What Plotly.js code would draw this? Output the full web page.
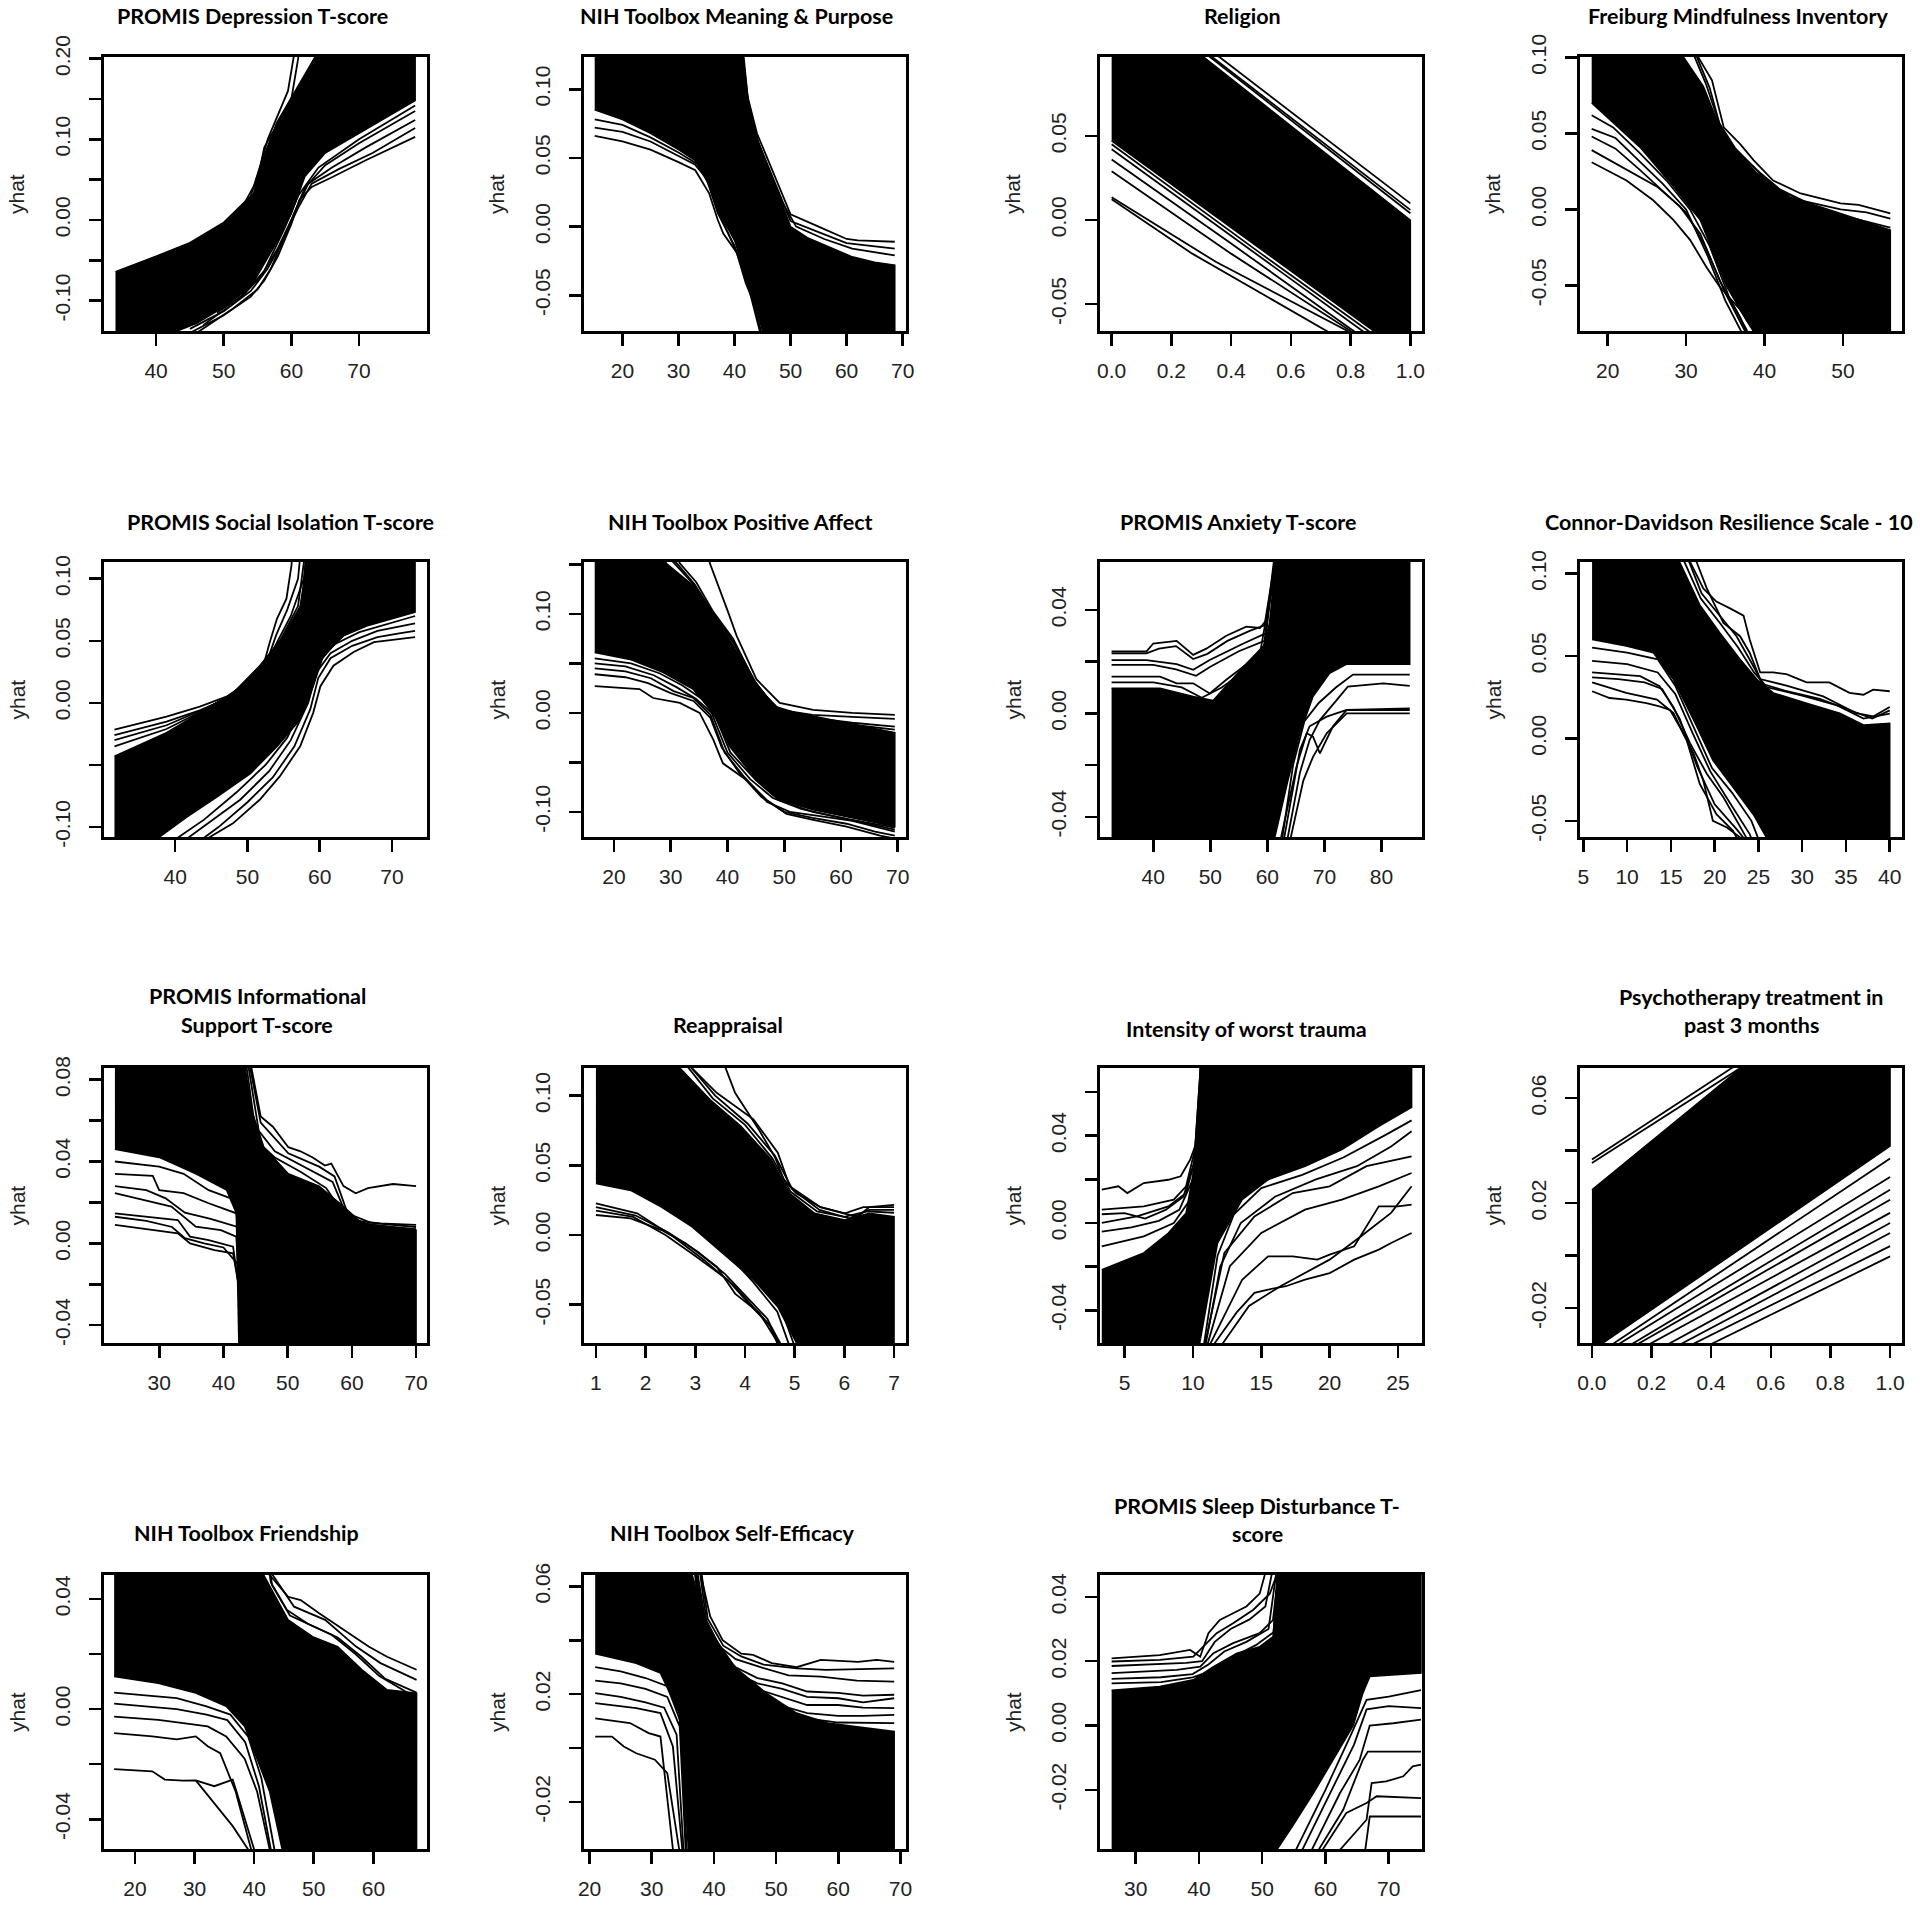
<!DOCTYPE html>
<html><head><meta charset="utf-8">
<script src="https://cdn.plot.ly/plotly-3.0.1.min.js"></script>
<style>html,body{margin:0;padding:0;background:#fff}#chart{width:1920px;height:1907px}</style>
</head><body><div id="chart"></div><script>
// ---------- titles & ticks ----------
const titles = [
  ['PROMIS Depression T-score'], ['NIH Toolbox Meaning & Purpose'], ['Religion'], ['Freiburg Mindfulness Inventory'],
  ['PROMIS Social Isolation T-score'], ['NIH Toolbox Positive Affect'], ['PROMIS Anxiety T-score'], ['Connor-Davidson Resilience Scale - 10'],
  ['PROMIS Informational', 'Support T-score'], ['Reappraisal'], ['Intensity of worst trauma'], ['Psychotherapy treatment in', 'past 3 months'],
  ['NIH Toolbox Friendship'], ['NIH Toolbox Self-Efficacy'], ['PROMIS Sleep Disturbance T-', 'score']
];
const xTicks = [
  [40,50,60,70], [20,30,40,50,60,70], [0,0.2,0.4,0.6,0.8,1.0], [20,30,40,50],
  [40,50,60,70], [20,30,40,50,60,70], [40,50,60,70,80], [5,10,15,20,25,30,35,40],
  [30,40,50,60,70], [1,2,3,4,5,6,7], [5,10,15,20,25], [0,0.2,0.4,0.6,0.8,1.0],
  [20,30,40,50,60], [20,30,40,50,60,70], [30,40,50,60,70]
];
const xTickLabels = [
  ['40','50','60','70'], ['20','30','40','50','60','70'], ['0.0','0.2','0.4','0.6','0.8','1.0'], ['20','30','40','50'],
  ['40','50','60','70'], ['20','30','40','50','60','70'], ['40','50','60','70','80'], ['5','10','15','20','25','30','35','40'],
  ['30','40','50','60','70'], ['1','2','3','4','5','6','7'], ['5','10','15','20','25'], ['0.0','0.2','0.4','0.6','0.8','1.0'],
  ['20','30','40','50','60'], ['20','30','40','50','60','70'], ['30','40','50','60','70']
];
const yTicks = [
  [-0.10,-0.05,0,0.05,0.10,0.15,0.20], [-0.05,0,0.05,0.10], [-0.05,0,0.05], [-0.05,0,0.05,0.10],
  [-0.10,-0.05,0,0.05,0.10], [-0.10,-0.05,0,0.05,0.10,0.15], [-0.04,-0.02,0,0.02,0.04], [-0.05,0,0.05,0.10],
  [-0.04,-0.02,0,0.02,0.04,0.06,0.08], [-0.05,0,0.05,0.10], [-0.04,-0.02,0,0.02,0.04,0.06], [-0.02,0,0.02,0.04,0.06],
  [-0.04,-0.02,0,0.02,0.04], [-0.02,0,0.02,0.04,0.06], [-0.02,0,0.02,0.04]
];
const yTickLabels = [
  ['-0.10','','0.00','','0.10','','0.20'], ['-0.05','0.00','0.05','0.10'], ['-0.05','0.00','0.05'], ['-0.05','0.00','0.05','0.10'],
  ['-0.10','','0.00','0.05','0.10'], ['-0.10','','0.00','','0.10',''], ['-0.04','','0.00','','0.04'], ['-0.05','0.00','0.05','0.10'],
  ['-0.04','','0.00','','0.04','','0.08'], ['-0.05','0.00','0.05','0.10'], ['-0.04','','0.00','','0.04',''], ['-0.02','','0.02','','0.06'],
  ['-0.04','','0.00','','0.04'], ['-0.02','','0.02','','0.06'], ['-0.02','0.00','0.02','0.04']
];

// ---------- panel 1: PROMIS Depression ----------
const p1_hi = [[34,-0.064],[40,-0.045],[45,-0.028],[50,-0.003],[54.4,0.033],[55.9,0.078],[57.8,0.12],[59.8,0.149],[61.3,0.169],[63.7,0.205],[66,0.25],[78.3,0.25]];
const p1_lo = [[34,-0.2],[40,-0.16],[43,-0.138],[46,-0.128],[50,-0.108],[54,-0.083],[56,-0.054],[58,-0.025],[60,0.008],[62,0.054],[65,0.083],[70,0.107],[74,0.127],[78.3,0.148]];
const p1_u1 = [[53,0.02],[55,0.05],[56,0.09],[57,0.105],[58.5,0.125],[60,0.15],[61,0.2],[61.5,0.25]];
const p1_u2 = [[54,0.03],[55.5,0.07],[56.5,0.1],[58,0.13],[59.5,0.16],[60.5,0.21]];
const p1_d1 = [[45,-0.14],[50,-0.118],[54,-0.095],[56,-0.075],[58,-0.045],[60,-0.005],[61.2,0.025],[63,0.041],[66,0.053],[71,0.074],[78.3,0.103]];
const p1_d2 = [[46,-0.14],[51,-0.112],[55,-0.086],[57,-0.06],[59,-0.02],[61,0.015],[63,0.045],[67,0.063],[72,0.083],[78.3,0.114]];
const p1_d3 = [[45,-0.135],[50,-0.113],[54,-0.088],[56.5,-0.06],[58.5,-0.03],[60.5,0.01],[62.5,0.045],[66,0.065],[71,0.09],[78.3,0.124]];
const p1_d4 = [[47,-0.13],[52,-0.1],[55.5,-0.07],[58,-0.035],[60,0.0],[62,0.04],[65,0.068],[70,0.095],[78.3,0.135]];
const p1_d5 = [[49,-0.115],[53,-0.092],[56,-0.063],[59,-0.01],[61,0.03],[64,0.065],[70,0.1],[78.3,0.142]];

// ---------- panel 2: Meaning & Purpose ----------
const p2_hi = [[15.05,0.2],[40,0.2],[41.5,0.125],[42.5,0.09],[44,0.062],[46,0.04],[48,0.022],[50,0.0],[53,-0.008],[57,-0.015],[61,-0.022],[65,-0.026],[68.6,-0.028]];
const p2_lo = [[15.05,0.085],[20,0.078],[25,0.068],[30,0.056],[33,0.048],[35.5,0.03],[37,0.012],[40,-0.01],[42,-0.035],[44,-0.06],[46,-0.085],[50,-0.15],[68.6,-0.15]];
const p2_u1 = [[40.5,0.15],[42,0.1],[44,0.068],[46,0.048],[48,0.028],[50,0.009],[55,0.0],[60,-0.009],[62,-0.01],[68.6,-0.011]];
const p2_u2 = [[40.8,0.15],[42.2,0.095],[44,0.064],[46,0.044],[48,0.024],[50,0.004],[55,-0.004],[60,-0.012],[68.6,-0.016]];
const p2_u3 = [[41,0.15],[42.4,0.092],[44.2,0.062],[46,0.042],[48.5,0.018],[51,0.0],[56,-0.009],[61,-0.016],[68.6,-0.021]];
const p2_d1 = [[15.05,0.066],[20,0.062],[25,0.056],[30,0.047],[33,0.041],[35.5,0.024],[37,0.005],[38,-0.005],[40.4,-0.019],[42,-0.041],[44,-0.061],[45.1,-0.076],[46,-0.09]];
const p2_d2 = [[15.05,0.072],[20,0.069],[25,0.062],[30,0.051],[33,0.045],[35,0.035],[37,0.01],[40,-0.014],[42,-0.036],[44.5,-0.076],[45,-0.09]];
const p2_d3 = [[15.05,0.078],[20,0.074],[25,0.065],[30,0.054],[34,0.044],[36,0.025],[38,0.003],[40.5,-0.02],[43,-0.05],[45,-0.08]];

// ---------- panel 3: Religion ----------
const p3_hi = [[0,0.14],[1,0.0]];
const p3_lo = [[0,0.047],[0.877,-0.066],[1,-0.082]];
const p3_u1 = [[0,0.146],[1,0.0099]];
const p3_u2 = [[0,0.143],[1,0.006]];
const p3_u3 = [[0,0.1425],[1,0.004]];
const p3_d1 = [[0,0.0123],[0.27,-0.02],[0.72,-0.066],[1,-0.095]];
const p3_d2 = [[0,0.0135],[0.35,-0.025],[0.79,-0.066],[1,-0.09]];
const p3_d3 = [[0,0.029],[0.4,-0.02],[0.8,-0.066],[1,-0.09]];
const p3_d4 = [[0,0.036],[0.4,-0.014],[0.81,-0.066],[1,-0.09]];
const p3_d5 = [[0,0.042],[0.45,-0.016],[0.84,-0.066],[1,-0.088]];
const p3_d6 = [[0,0.045],[0.5,-0.02],[0.86,-0.066],[1,-0.085]];

// ---------- panel 4: Freiburg Mindfulness ----------
const p4_hi = [[17.96,0.15],[26,0.15],[29.7,0.1],[32.2,0.081],[33.9,0.059],[36.0,0.041],[39.0,0.024],[43.3,0.008],[49.7,-0.0026],[56.04,-0.0136]];
const p4_lo = [[17.96,0.070],[24.1,0.041],[28.4,0.015],[31.8,-0.007],[33.5,-0.029],[35.2,-0.051],[37.7,-0.073],[38.6,-0.080],[40,-0.1],[56.04,-0.1]];
const p4_u1 = [[31.0,0.12],[31.57,0.1],[33.3,0.085],[34.8,0.054],[36.9,0.043],[38.6,0.0325],[41.1,0.019],[44.6,0.0105],[49.7,0.004],[52,0.003],[56.04,-0.0026]];
const p4_u2 = [[30.8,0.12],[31.4,0.1],[33.0,0.08],[34.6,0.05],[36.5,0.038],[38.6,0.028],[41.1,0.015],[44.6,0.006],[49.7,0.0],[53,-0.002],[56.04,-0.006]];
const p4_u3 = [[30.3,0.11],[32.5,0.083],[34.2,0.057],[36.3,0.04],[39,0.026],[42,0.013],[46,0.003],[50,-0.004],[56.04,-0.012]];
const p4_d1 = [[17.96,0.031],[22.4,0.019],[25.8,0.006],[28.4,-0.007],[30.5,-0.020],[32.6,-0.038],[34.3,-0.051],[36.9,-0.066],[38.6,-0.080],[39.5,-0.09]];
const p4_d2 = [[17.96,0.039],[22.4,0.026],[26.3,0.015],[29.2,0.002],[31.8,-0.016],[34.3,-0.047],[36.9,-0.071],[38,-0.085]];
const p4_d3 = [[17.96,0.048],[21,0.04],[24.1,0.026],[27,0.012],[30,-0.002],[32.5,-0.025],[35,-0.055],[37.5,-0.08]];
const p4_d4 = [[17.96,0.062],[20.7,0.054],[24.1,0.037],[27.5,0.019],[30.5,0.0],[33,-0.024],[35.5,-0.058],[37.8,-0.08]];
const p4_d5 = [[17.96,0.053],[21,0.047],[24,0.032],[27,0.017],[30,0.0],[32.7,-0.03],[35,-0.06],[37.5,-0.085]];

// ---------- panel 5: Social Isolation ----------
const p5_hi = [[31.6,-0.043],[38.8,-0.024],[43.4,-0.008],[48.0,0.008],[51.7,0.030],[55.0,0.054],[57.3,0.078],[58.2,0.113],[58.8,0.15],[73.2,0.15]];
const p5_lo = [[31.6,-0.15],[36.9,-0.112],[41.6,-0.092],[45.7,-0.076],[50.4,-0.057],[54.1,-0.035],[57.3,-0.0135],[59.1,0.0135],[60.5,0.038],[63.3,0.054],[66.5,0.062],[73.2,0.073]];
const p5_u1 = [[31.6,-0.0216],[38.8,-0.011],[43.4,-0.003],[47.1,0.005],[49.9,0.016],[52.2,0.030],[53.1,0.049],[54.1,0.068],[55.4,0.084],[56.1,0.111],[56.3,0.13]];
const p5_u2 = [[31.6,-0.026],[38.8,-0.015],[43.4,-0.006],[47.5,0.004],[50.5,0.018],[52.8,0.035],[54,0.055],[55.5,0.075],[57,0.1],[57.5,0.13]];
const p5_u3 = [[31.6,-0.030],[38.8,-0.018],[43.4,-0.0065],[47.8,0.006],[51,0.022],[53.5,0.042],[56,0.07],[57.8,0.1],[58.3,0.13]];
const p5_u4 = [[31.6,-0.035],[38.8,-0.021],[43.4,-0.0075],[48,0.007],[51.5,0.026],[54.5,0.05],[57,0.078],[58.2,0.13]];
const p5_d1 = [[43,-0.115],[44.8,-0.108],[48.0,-0.097],[51.7,-0.078],[54.5,-0.059],[57.3,-0.035],[59.1,-0.008],[60.1,0.0135],[61.9,0.030],[64.7,0.041],[67.5,0.049],[70.2,0.051],[73.2,0.053]];
const p5_d2 = [[42.5,-0.115],[46,-0.1],[50,-0.08],[53.5,-0.06],[56.5,-0.035],[58.7,-0.005],[59.8,0.02],[61.5,0.036],[64.5,0.046],[68,0.053],[71,0.056],[73.2,0.058]];
const p5_d3 = [[41,-0.112],[45,-0.095],[49,-0.078],[53,-0.055],[56,-0.03],[58.4,0.0],[59.6,0.025],[61.5,0.04],[64.5,0.05],[68,0.058],[73.2,0.064]];
const p5_d4 = [[40,-0.11],[44,-0.094],[48.5,-0.072],[52.5,-0.05],[55.5,-0.028],[58,0.002],[59.5,0.03],[62,0.047],[65.5,0.057],[69,0.063],[73.2,0.07]];

// ---------- panel 6: Positive Affect ----------
const p6_hi = [[16.6,0.2],[28,0.2],[29.2,0.151],[33.9,0.129],[37.5,0.098],[41.0,0.068],[44.5,0.034],[48.1,0.007],[52.2,0.0],[60,-0.009],[69.5,-0.02]];
const p6_lo = [[16.6,0.061],[22.8,0.054],[28.6,0.041],[33.9,0.024],[37.5,0.0],[40.4,-0.034],[45.1,-0.068],[49.2,-0.088],[55.1,-0.098],[61.0,-0.105],[69.5,-0.115]];
const p6_u1 = [[36.5,0.165],[36.9,0.151],[40.1,0.102],[41.6,0.078],[45.1,0.034],[49.2,0.010],[55.1,0.003],[62,0.0],[69.5,-0.002]];
const p6_u2 = [[31,0.16],[31.6,0.151],[34.5,0.132],[37.5,0.102],[41.0,0.075],[45.1,0.027],[49.2,0.003],[55,-0.002],[62,-0.004],[69.5,-0.006]];
const p6_u3 = [[30.5,0.155],[34.2,0.13],[37.5,0.1],[41.3,0.07],[45,0.03],[48.6,0.004],[55,-0.005],[62,-0.01],[69.5,-0.014]];
const p6_u4 = [[30,0.155],[34,0.13],[37.5,0.099],[41.2,0.069],[44.8,0.032],[48.4,0.005],[55,-0.006],[62,-0.012],[69.5,-0.017]];
const p6_d1 = [[16.6,0.027],[24.5,0.024],[26.9,0.015],[31.6,0.010],[35.1,0.0],[37.5,-0.027],[39.2,-0.051],[43.4,-0.068],[46.9,-0.088],[50.4,-0.102],[55.1,-0.108],[61.0,-0.115],[66.9,-0.124],[69.5,-0.127]];
const p6_d2 = [[16.6,0.039],[22,0.036],[26,0.03],[30,0.02],[34,0.012],[37,-0.005],[39,-0.035],[42,-0.06],[46,-0.085],[50,-0.1],[55,-0.106],[61,-0.112],[66,-0.12],[69.5,-0.124]];
const p6_d3 = [[16.6,0.045],[22,0.042],[26.5,0.035],[30.5,0.022],[34,0.015],[37,-0.002],[39.5,-0.04],[43,-0.065],[47,-0.09],[51,-0.1],[56,-0.104],[62,-0.109],[69.5,-0.12]];
const p6_d4 = [[16.6,0.050],[22,0.047],[27,0.038],[31,0.026],[34.5,0.014],[37.2,0.0],[40,-0.04],[44,-0.067],[48,-0.086],[53,-0.097],[60,-0.106],[69.5,-0.118]];
const p6_d5 = [[16.6,0.055],[23,0.05],[28,0.04],[32,0.028],[35.5,0.014],[38,-0.005],[40.5,-0.04],[45,-0.068],[49,-0.088],[55,-0.1],[62,-0.108],[69.5,-0.116]];

// ---------- panel 7: Anxiety ----------
const p7_hi = [[32.7,0.0097],[41.2,0.0097],[47,0.0065],[50.5,0.005],[55.8,0.018],[59.3,0.026],[60.4,0.035],[61.6,0.058],[62,0.08],[84.95,0.08]];
const p7_lo = [[32.7,-0.08],[61,-0.08],[61.3,-0.048],[63.6,-0.026],[65.7,-0.0077],[68.0,0.0065],[70.9,0.0155],[73.9,0.019],[84.95,0.019]];
const p7_u1 = [[32.7,0.0239],[38.8,0.0239],[40,0.027],[44.1,0.028],[47.0,0.0226],[49.3,0.025],[52.8,0.030],[56.3,0.0335],[58.7,0.033],[59.8,0.036],[61.6,0.057],[62,0.065]];
const p7_u2 = [[32.7,0.0206],[38.8,0.0206],[44.1,0.019],[47.0,0.0168],[49.9,0.0206],[55.8,0.027],[59.8,0.031],[61.3,0.058],[61.6,0.065]];
const p7_u3 = [[32.7,0.0142],[41.2,0.0142],[44.1,0.0116],[47,0.0116],[49.9,0.0077],[52.8,0.013],[58.7,0.023],[61.0,0.052],[61.5,0.065]];
const p7_u4 = [[32.7,0.0232],[38.8,0.0232],[41,0.025],[44,0.026],[47,0.021],[49.5,0.023],[53,0.028],[57,0.032],[59.5,0.034],[61.4,0.06]];
const p7_u5 = [[32.7,0.0187],[40,0.0187],[44,0.017],[47.5,0.0145],[50,0.018],[55,0.024],[59.5,0.028],[61.2,0.06]];
const p7_u6 = [[32.7,0.012],[40,0.012],[45,0.01],[48.5,0.006],[52,0.01],[57,0.018],[60,0.024],[61.5,0.06]];
const p7_d1 = [[63.4,-0.05],[65.7,-0.023],[67.4,-0.0103],[69.2,-0.0026],[72.1,0.005],[74.1,0.0103],[80.3,0.0116],[84.95,0.0106]];
const p7_d2 = [[62.2,-0.05],[65.1,-0.0206],[66.9,-0.0077],[68.0,-0.009],[69.2,-0.0155],[71.5,-0.005],[73.9,0.0013],[84.95,0.0019]];
const p7_d3 = [[63.9,-0.05],[66.3,-0.026],[68.0,-0.0168],[70.4,-0.0077],[73.9,0.0],[84.95,0.0]];
const p7_d4 = [[62.8,-0.05],[65.7,-0.0142],[67.4,-0.005],[70.4,-0.0013],[73.9,0.0013],[84.95,0.0013]];
const p7_d5 = [[62.5,-0.05],[64.5,-0.02],[66.5,-0.003],[69,0.004],[72,0.01],[75,0.015],[84.95,0.015]];

// ---------- panel 8: Connor-Davidson ----------
const p8_hi = [[6,0.15],[15,0.15],[16.0,0.107],[18.3,0.081],[20.6,0.064],[22.9,0.048],[24.8,0.036],[26.7,0.0276],[30.5,0.0214],[34.3,0.0153],[37.0,0.0082],[40,0.0092]];
const p8_lo = [[6,0.060],[9.9,0.056],[13.0,0.052],[15.3,0.0357],[17.6,0.0112],[19.8,-0.0133],[22.1,-0.0296],[24.4,-0.046],[25.9,-0.060],[27,-0.08],[40,-0.08]];
const p8_u1 = [[16.8,0.12],[17.2,0.107],[18.7,0.091],[20.2,0.083],[21.7,0.079],[23.3,0.0745],[24.0,0.060],[25.2,0.040],[26.7,0.040],[28.2,0.039],[30.5,0.034],[33.1,0.034],[35.4,0.0276],[37.0,0.0265],[38.1,0.0296],[40,0.0286]];
const p8_u2 = [[17,0.12],[19.1,0.091],[21.0,0.070],[22.9,0.062],[24.0,0.052],[25.2,0.036],[28.2,0.032],[32.4,0.0255],[36.2,0.0153],[38.1,0.0133],[40,0.019]];
const p8_u3 = [[16.5,0.115],[18.5,0.088],[20.5,0.075],[22.5,0.062],[24.3,0.045],[25.5,0.033],[28,0.029],[32,0.024],[36,0.016],[38,0.012],[40,0.017]];
const p8_u4 = [[16.3,0.11],[18.4,0.085],[20.6,0.07],[22.7,0.055],[24.5,0.04],[26,0.031],[30,0.026],[34,0.02],[37,0.012],[40,0.015]];
const p8_d1 = [[6,0.0286],[8.0,0.0245],[9.9,0.0235],[12.2,0.0214],[13.7,0.0194],[14.9,0.0173],[16.0,0.0071],[17.6,-0.0092],[18.7,-0.0255],[19.8,-0.050],[21.4,-0.054],[22.9,-0.060],[23.5,-0.065]];
const p8_d2 = [[6,0.034],[9.9,0.0276],[13.4,0.0235],[15.3,0.0153],[16.8,-0.001],[18.3,-0.0276],[20.2,-0.046],[22.1,-0.056],[23,-0.065]];
const p8_d3 = [[6,0.040],[11.5,0.0378],[13.7,0.0316],[15.3,0.019],[17.2,-0.003],[19.1,-0.0214],[21.0,-0.0357],[23.6,-0.060],[24,-0.065]];
const p8_d4 = [[6,0.047],[10,0.045],[13.5,0.04],[15.5,0.027],[17.5,0.003],[19.5,-0.02],[21.5,-0.037],[24,-0.058],[24.5,-0.065]];
const p8_d5 = [[6,0.055],[10,0.052],[13.5,0.048],[15.5,0.032],[17.5,0.008],[19.7,-0.018],[22,-0.033],[24.2,-0.05],[25.3,-0.065]];
const p8_d6 = [[6,0.037],[9,0.036],[12,0.034],[14,0.03],[16,0.012],[18,-0.017],[20,-0.04],[22.5,-0.055],[24,-0.065]];

// ---------- panel 9: Informational Support ----------
const p9_hi = [[23.1,0.12],[43,0.12],[43.4,0.0857],[44.4,0.065],[46.3,0.047],[50.1,0.034],[54.9,0.028],[58.7,0.018],[61.6,0.0098],[70,0.0065]];
const p9_lo = [[23.1,0.046],[30,0.042],[35.7,0.034],[40.5,0.026],[42.0,0.0147],[42.4,-0.049],[42.6,-0.08],[70,-0.08]];
const p9_u1 = [[43.5,0.1],[45.8,0.062],[47.7,0.057],[50.1,0.047],[52.0,0.045],[53.9,0.042],[55.8,0.038],[56.8,0.039],[58.7,0.028],[60.6,0.0245],[62.5,0.027],[66.4,0.029],[70,0.028]];
const p9_u2 = [[43.3,0.1],[45.8,0.059],[50.1,0.044],[54.9,0.0375],[57.3,0.0327],[59.7,0.0114],[64.4,0.0098],[70,0.009]];
const p9_u3 = [[43.2,0.1],[45.5,0.055],[48,0.045],[51,0.04],[54,0.035],[57,0.03],[59,0.015],[63,0.01],[70,0.008]];
const p9_u4 = [[43.0,0.1],[45.2,0.05],[48,0.042],[52,0.035],[56,0.027],[59,0.013],[63,0.009],[70,0.007]];
const p9_d1 = [[23.1,0.009],[32.9,0.0049],[34.8,0.0],[38.6,-0.0033],[41.5,-0.0049],[42.6,-0.0245],[44.4,-0.0487],[45,-0.06]];
const p9_d2 = [[23.1,0.0147],[32.9,0.0114],[34.8,0.0033],[37.7,0.0016],[41.5,-0.0016],[42.9,-0.033],[43.8,-0.06]];
const p9_d3 = [[23.1,0.0245],[31.9,0.018],[35.7,0.0082],[39.6,0.0065],[42.0,0.0033],[43.3,-0.06]];
const p9_d4 = [[23.1,0.034],[29,0.033],[30,0.026],[33.8,0.0245],[37.7,0.0196],[42.0,0.0147],[42.9,-0.008],[43.6,-0.06]];
const p9_d5 = [[23.1,0.040],[30,0.0375],[33.8,0.034],[37.7,0.026],[42.0,0.021],[43.2,-0.06]];
const p9_d6 = [[23.1,0.013],[28,0.011],[32,0.008],[34,0.0025],[37,0.0],[40,-0.002],[42.2,-0.01],[43,-0.06]];
const p9_d7 = [[23.1,0.028],[28,0.026],[31,0.022],[34,0.015],[38,0.012],[42.2,0.008],[43,-0.06]];

// ---------- panel 10: Reappraisal ----------
const p10_hi = [[1,0.2],[2.5,0.2],[2.69,0.1198],[3.3,0.097],[3.92,0.078],[4.53,0.054],[4.9,0.030],[5.4,0.0156],[6.01,0.0108],[6.5,0.0156],[7,0.0132]];
const p10_lo = [[1,0.037],[1.7,0.032],[2.32,0.020],[2.93,0.006],[3.55,-0.013],[4.17,-0.032],[4.66,-0.0515],[5.03,-0.077],[5.2,-0.1],[7,-0.1]];
const p10_u1 = [[3.55,0.14],[3.61,0.1198],[3.8,0.102],[4.29,0.075],[4.6,0.056],[4.78,0.040],[5.03,0.030],[5.52,0.020],[6.01,0.0156],[6.38,0.020],[7,0.020]];
const p10_u2 = [[2.85,0.13],[2.93,0.1198],[3.43,0.102],[4.17,0.083],[4.66,0.059],[4.9,0.035],[5.52,0.020],[6.26,0.013],[6.5,0.020],[7,0.0216]];
const p10_u3 = [[2.8,0.125],[3.4,0.1],[4.05,0.08],[4.6,0.057],[4.95,0.033],[5.5,0.018],[6.1,0.012],[6.5,0.018],[7,0.018]];
const p10_u4 = [[2.75,0.125],[3.35,0.098],[4,0.079],[4.55,0.055],[4.92,0.031],[5.45,0.017],[6,0.013],[6.45,0.017],[7,0.016]];
const p10_d1 = [[1,0.0144],[1.7,0.012],[2.32,0.0036],[2.81,-0.006],[3.43,-0.0227],[3.8,-0.042],[4.29,-0.056],[4.66,-0.077],[4.8,-0.09]];
const p10_d2 = [[1,0.0227],[1.83,0.0156],[2.56,-0.0012],[3.18,-0.018],[3.8,-0.037],[4.17,-0.0515],[4.53,-0.066],[4.9,-0.09]];
const p10_d3 = [[1,0.02],[1.8,0.014],[2.45,0.002],[3.05,-0.012],[3.6,-0.028],[4.05,-0.045],[4.45,-0.06],[4.85,-0.09]];
const p10_d4 = [[1,0.0175],[1.75,0.013],[2.4,0.0],[3.0,-0.015],[3.65,-0.032],[4.1,-0.05],[4.5,-0.065],[4.8,-0.09]];
const p10_d5 = [[1,0.044],[1.7,0.038],[2.4,0.025],[3,0.01],[3.6,-0.008],[4.2,-0.03],[4.7,-0.05],[5.1,-0.09]];
const p10_d6 = [[1,0.041],[1.7,0.035],[2.35,0.022],[2.95,0.008],[3.55,-0.01],[4.15,-0.033],[4.65,-0.055],[5.0,-0.09]];

// ---------- panel 11: Intensity of worst trauma ----------
const p11_hi = [[3.33,-0.0214],[6.4,-0.0137],[8.2,-0.0046],[9.5,0.0046],[10.2,0.029],[10.7,0.071],[10.9,0.1],[26,0.1]];
const p11_lo = [[3.33,-0.08],[10.3,-0.08],[10.5,-0.055],[11.8,-0.0092],[13.6,0.0107],[15.5,0.0198],[18.2,0.026],[20.9,0.0336],[23.6,0.0443],[26,0.053]];
const p11_u1 = [[3.33,0.0153],[4.55,0.0168],[5.2,0.0137],[6.4,0.0183],[8.2,0.0198],[9.1,0.0214],[9.8,0.029],[10.5,0.041],[10.9,0.071],[11,0.09]];
const p11_u2 = [[3.33,0.0061],[6.4,0.0076],[8.6,0.0107],[9.5,0.0168],[10.2,0.035],[10.7,0.075]];
const p11_u3 = [[3.33,0.0],[5.9,0.003],[8.2,0.0076],[9.5,0.0137],[10.2,0.03],[10.6,0.075]];
const p11_u4 = [[3.33,-0.0107],[6.4,-0.0061],[8.6,0.0],[9.8,0.0107],[10.3,0.03],[10.6,0.075]];
const p11_u5 = [[3.33,0.004],[5,0.0045],[6.5,0.002],[8,0.006],[9.3,0.012],[10.1,0.028],[10.6,0.075]];
const p11_u6 = [[3.33,-0.004],[5.5,-0.002],[7.5,0.001],[9,0.006],[10,0.02],[10.6,0.075]];
const p11_d1 = [[11.3,-0.07],[11.6,-0.055],[13.2,-0.041],[14.5,-0.032],[15.5,-0.0305],[16.8,-0.029],[18.2,-0.026],[20.0,-0.023],[21.8,-0.0168],[23.6,-0.0122],[24.5,-0.0092],[26,-0.0046]];
const p11_d2 = [[10.9,-0.07],[11.3,-0.055],[13.6,-0.026],[15.5,-0.0153],[17.3,-0.0153],[19.1,-0.0168],[20,-0.0145],[21.8,-0.0107],[23.6,0.0076],[25,0.0076],[26,0.0084]];
const p11_d3 = [[11.8,-0.07],[12.2,-0.055],[14.1,-0.038],[16.4,-0.029],[20,-0.0168],[22.3,-0.0061],[24.5,0.0046],[26,0.0168]];
const p11_d4 = [[10.9,-0.07],[11.1,-0.055],[12.7,-0.0198],[15.0,-0.0046],[18.2,0.0061],[20.9,0.0107],[23.6,0.0168],[26,0.0229]];
const p11_d5 = [[10.7,-0.07],[10.9,-0.055],[12.3,-0.0137],[14.5,0.003],[17.3,0.0137],[20,0.0168],[22.7,0.026],[26,0.0305]];
const p11_d6 = [[10.8,-0.06],[12,-0.02],[13.5,0.0],[16,0.012],[19,0.02],[22,0.026],[24.5,0.035],[26,0.042]];
const p11_d7 = [[10.7,-0.06],[11.8,-0.015],[13,0.004],[15,0.016],[18,0.022],[21,0.03],[24,0.04],[26,0.047]];

// ---------- panel 12: Psychotherapy ----------
const p12_hi = [[0,0.0251],[0.5,0.0716],[1,0.118]];
const p12_lo = [[0,-0.0362],[1,0.0417]];
const p12_u1 = [[0,0.0366],[1,0.111]];
const p12_u2 = [[0,0.0353],[1,0.108]];
const p12_d1 = [[0,-0.056],[1,-0.0003]];
const p12_d2 = [[0,-0.0528],[1,0.0036]];
const p12_d3 = [[0,-0.0517],[1,0.0086]];
const p12_d4 = [[0,-0.0496],[1,0.0124]];
const p12_d5 = [[0,-0.0457],[1,0.0163]];
const p12_d6 = [[0,-0.0437],[1,0.0213]];
const p12_d7 = [[0,-0.0428],[1,0.0251]];
const p12_d8 = [[0,-0.040],[1,0.030]];
const p12_d9 = [[0,-0.039],[1,0.037]];

// ---------- panel 13: Friendship ----------
const p13_hi = [[16.5,0.1],[41,0.1],[41.6,0.0487],[45.7,0.0324],[49.8,0.0263],[54,0.0227],[58.1,0.0143],[62.3,0.007],[67.25,0.0058]];
const p13_lo = [[16.5,0.0118],[23.9,0.0094],[30.2,0.0058],[35.3,0.001],[38.4,-0.0063],[40.5,-0.018],[42.6,-0.030],[44.7,-0.051],[45,-0.08],[67.25,-0.08]];
const p13_u1 = [[42,0.06],[42.6,0.0487],[45.7,0.0408],[47.8,0.0396],[50.9,0.0348],[55,0.0288],[59.2,0.0227],[62.3,0.019],[67.25,0.0143]];
const p13_u2 = [[42.4,0.06],[43.1,0.0487],[46.7,0.0372],[51.9,0.0324],[57.1,0.0227],[61.2,0.0167],[67.25,0.0106]];
const p13_u3 = [[42,0.06],[43,0.045],[46,0.034],[50,0.03],[54,0.026],[58,0.019],[62,0.011],[67.25,0.006]];
const p13_u4 = [[41.8,0.06],[42.8,0.046],[45.5,0.036],[49,0.031],[53,0.027],[57,0.02],[61,0.012],[67.25,0.004]];
const p13_d1 = [[16.5,-0.0218],[22.9,-0.0226],[23.9,-0.024],[25,-0.0256],[28.1,-0.026],[30.2,-0.0259],[33.3,-0.028],[36.4,-0.0256],[36.9,-0.029],[38.4,-0.040],[40,-0.051],[40.5,-0.06]];
const p13_d2 = [[16.5,-0.0087],[22.9,-0.0099],[27,-0.011],[30.2,-0.0099],[32.2,-0.0135],[34.3,-0.016],[36.9,-0.030],[39.5,-0.051],[40,-0.06]];
const p13_d3 = [[30.2,-0.0259],[33.3,-0.034],[36.4,-0.0425],[39,-0.051],[39.5,-0.06]];
const p13_d4 = [[16.5,-0.0027],[23.9,-0.0039],[28.1,-0.0051],[32.2,-0.0063],[35.3,-0.0099],[38.4,-0.018],[40.5,-0.030],[42.6,-0.051],[43,-0.06]];
const p13_d5 = [[16.5,0.002],[22,0.001],[27,0.0],[32,-0.002],[35.5,-0.004],[38.5,-0.012],[40.8,-0.028],[42.8,-0.051],[43.2,-0.06]];
const p13_d6 = [[16.5,0.006],[22,0.005],[27,0.004],[32,0.001],[36,-0.002],[39,-0.01],[41.2,-0.025],[43.4,-0.051],[43.8,-0.06]];

// ---------- panel 14: Self-Efficacy ----------
const p14_hi = [[20.9,0.09],[36,0.09],[36.5,0.0642],[38.5,0.0488],[40.4,0.040],[43.4,0.030],[48.4,0.0204],[53.3,0.013],[58.3,0.0093],[69,0.0062]];
const p14_lo = [[20.9,0.035],[27.5,0.0315],[31.4,0.0278],[34.4,0.013],[35.9,-0.0374],[36.2,-0.06],[69,-0.06]];
const p14_u1 = [[37.6,0.075],[37.9,0.0642],[39.4,0.0488],[41.4,0.040],[44.4,0.035],[46.3,0.0346],[49.3,0.0315],[53.3,0.030],[57.2,0.0327],[63.2,0.032],[66.2,0.0327],[69,0.032]];
const p14_u2 = [[37.4,0.075],[39,0.048],[41.5,0.038],[44.4,0.034],[48,0.031],[53.3,0.0296],[58,0.029],[63,0.0293],[69,0.0296]];
const p14_u3 = [[37.2,0.075],[38.8,0.047],[41,0.0375],[43.5,0.033],[47.5,0.03],[52,0.027],[57.2,0.0265],[63,0.025],[69,0.0247]];
const p14_u4 = [[37,0.07],[38.7,0.046],[40.8,0.036],[43.5,0.03],[47,0.026],[51,0.024],[55,0.021],[60,0.0205],[64,0.0195],[69,0.0198]];
const p14_u5 = [[36.9,0.07],[38.6,0.045],[40.6,0.035],[43.4,0.028],[47,0.024],[51,0.022],[55,0.019],[60,0.0185],[64,0.017],[69,0.0185]];
const p14_u6 = [[36.8,0.07],[38.5,0.044],[40.5,0.034],[43.2,0.027],[46.8,0.022],[51,0.019],[55,0.016],[60,0.016],[64,0.015],[69,0.0148]];
const p14_u7 = [[36.7,0.07],[38.4,0.043],[40.5,0.033],[43,0.026],[46.5,0.02],[50.5,0.016],[55,0.013],[60,0.012],[64,0.012],[69,0.0123]];
const p14_u8 = [[36.6,0.07],[38.3,0.042],[40.4,0.032],[43,0.025],[46.5,0.018],[50,0.014],[55,0.011],[60,0.0095],[69,0.0093]];
const p14_d1 = [[20.9,0.0043],[23.6,0.0043],[25.5,0.0006],[27.5,-0.0019],[30.5,-0.0043],[32.5,-0.0093],[34.4,-0.0374],[34.6,-0.045]];
const p14_d2 = [[20.9,0.011],[26.5,0.0093],[29.5,0.0056],[31.4,0.0043],[33.4,-0.0374],[33.6,-0.045]];
const p14_d3 = [[20.9,0.0167],[27.5,0.0148],[31.4,0.013],[33.4,0.0006],[34.9,-0.0374],[35.1,-0.045]];
const p14_d4 = [[20.9,0.0204],[25,0.019],[29,0.017],[32,0.015],[34,0.005],[35.3,-0.045]];
const p14_d5 = [[20.9,0.025],[25,0.024],[29,0.022],[32.5,0.019],[34.5,0.008],[35.6,-0.045]];
const p14_d6 = [[20.9,0.03],[25,0.0285],[29,0.026],[32.5,0.023],[34.6,0.01],[35.8,-0.045]];

// ---------- panel 15: Sleep Disturbance ----------
const p15_hi = [[26.2,0.011],[33.8,0.0121],[39.1,0.0142],[42.3,0.0183],[46,0.0225],[49.6,0.0245],[51.7,0.0276],[52.5,0.0468],[52.7,0.07],[75.1,0.07]];
const p15_lo = [[26.2,-0.06],[52.3,-0.06],[52.4,-0.0384],[54.9,-0.031],[58.1,-0.021],[61.2,-0.0107],[64.4,0.0],[65.9,0.010],[67,0.0152],[75.1,0.0163]];
const p15_u1 = [[26.2,0.0209],[33.8,0.0219],[38.6,0.0235],[40.2,0.0214],[41.5,0.0287],[43.3,0.0328],[45.4,0.0349],[47.5,0.037],[49.6,0.041],[50.4,0.0468],[50.6,0.055]];
const p15_u2 = [[26.2,0.0199],[33.8,0.0204],[39.1,0.0214],[40.7,0.0245],[42.8,0.0287],[45.4,0.0318],[48.6,0.036],[51.2,0.041],[52.3,0.0468],[52.5,0.055]];
const p15_u3 = [[26.2,0.0163],[36.5,0.0173],[40.2,0.0183],[42.3,0.0225],[45.4,0.0256],[49.6,0.0287],[51.7,0.0328],[52.5,0.0468],[52.6,0.055]];
const p15_u4 = [[26.2,0.0185],[33,0.019],[38,0.0195],[40.5,0.02],[42.5,0.026],[45,0.03],[48,0.033],[50.5,0.037],[51.5,0.047],[51.7,0.055]];
const p15_u5 = [[26.2,0.0145],[34,0.015],[39,0.016],[41.5,0.019],[44,0.023],[47.5,0.026],[51,0.03],[52.4,0.05]];
const p15_u6 = [[26.2,0.0131],[34,0.0135],[39,0.015],[42,0.017],[45,0.021],[49,0.025],[51.8,0.029],[52.5,0.05]];
const p15_d1 = [[61.7,-0.04],[66.5,-0.0293],[67.3,-0.0179],[69.6,-0.0174],[72.3,-0.0158],[73.8,-0.0127],[75.1,-0.0122]];
const p15_d2 = [[66.2,-0.04],[67,-0.0283],[75.1,-0.0283]];
const p15_d3 = [[59.1,-0.04],[63.3,-0.0272],[66.5,-0.0241],[68.1,-0.022],[75.1,-0.0226]];
const p15_d4 = [[58.5,-0.04],[62.8,-0.0262],[65.9,-0.0107],[66.7,-0.0081],[75.1,-0.0081]];
const p15_d5 = [[57.5,-0.04],[62.3,-0.021],[65.4,-0.0107],[67,0.0],[70.7,0.0007],[75.1,0.0018]];
const p15_d6 = [[56,-0.04],[61,-0.02],[64.5,-0.006],[66.5,0.005],[70,0.006],[75.1,0.0054]];
const p15_d7 = [[55,-0.04],[60,-0.02],[64,-0.003],[66.5,0.008],[70,0.009],[75.1,0.011]];

// ---------- grouping ----------
const bands = [
  [p1_hi,p1_lo],[p2_hi,p2_lo],[p3_hi,p3_lo],[p4_hi,p4_lo],[p5_hi,p5_lo],[p6_hi,p6_lo],[p7_hi,p7_lo],[p8_hi,p8_lo],
  [p9_hi,p9_lo],[p10_hi,p10_lo],[p11_hi,p11_lo],[p12_hi,p12_lo],[p13_hi,p13_lo],[p14_hi,p14_lo],[p15_hi,p15_lo]
];
const extraLines = [
  [p1_u1,p1_u2,p1_d1,p1_d2,p1_d3,p1_d4,p1_d5],
  [p2_u1,p2_u2,p2_u3,p2_d1,p2_d2,p2_d3],
  [p3_u1,p3_u2,p3_u3,p3_d1,p3_d2,p3_d3,p3_d4,p3_d5,p3_d6],
  [p4_u1,p4_u2,p4_u3,p4_d1,p4_d2,p4_d3,p4_d4,p4_d5],
  [p5_u1,p5_u2,p5_u3,p5_u4,p5_d1,p5_d2,p5_d3,p5_d4],
  [p6_u1,p6_u2,p6_u3,p6_u4,p6_d1,p6_d2,p6_d3,p6_d4,p6_d5],
  [p7_u1,p7_u2,p7_u3,p7_u4,p7_u5,p7_u6,p7_d1,p7_d2,p7_d3,p7_d4,p7_d5],
  [p8_u1,p8_u2,p8_u3,p8_u4,p8_d1,p8_d2,p8_d3,p8_d4,p8_d5,p8_d6],
  [p9_u1,p9_u2,p9_u3,p9_u4,p9_d1,p9_d2,p9_d3,p9_d4,p9_d5,p9_d6,p9_d7],
  [p10_u1,p10_u2,p10_u3,p10_u4,p10_d1,p10_d2,p10_d3,p10_d4,p10_d5,p10_d6],
  [p11_u1,p11_u2,p11_u3,p11_u4,p11_u5,p11_u6,p11_d1,p11_d2,p11_d3,p11_d4,p11_d5,p11_d6,p11_d7],
  [p12_u1,p12_u2,p12_d1,p12_d2,p12_d3,p12_d4,p12_d5,p12_d6,p12_d7,p12_d8,p12_d9],
  [p13_u1,p13_u2,p13_u3,p13_u4,p13_d1,p13_d2,p13_d3,p13_d4,p13_d5,p13_d6],
  [p14_u1,p14_u2,p14_u3,p14_u4,p14_u5,p14_u6,p14_u7,p14_u8,p14_d1,p14_d2,p14_d3,p14_d4,p14_d5,p14_d6],
  [p15_u1,p15_u2,p15_u3,p15_u4,p15_u5,p15_u6,p15_d1,p15_d2,p15_d3,p15_d4,p15_d5,p15_d6,p15_d7]
];

// ---------- layout geometry (pixels) ----------
const W = 1920, H = 1907;
const cols = [[104,427],[584,906],[1100,1422],[1580,1902]];
const rows = [[57,331],[562,837],[1068,1343],[1575,1849]];
const cfg = [
  {c:0,r:0,xr:[32.3,80.05],yr:[-0.1376,0.202],tx:252,ty:[15.5]},
  {c:1,r:0,xr:[13.14,70.6],yr:[-0.076,0.1235],tx:736,ty:[15.5]},
  {c:2,r:0,xr:[-0.039,1.039],yr:[-0.066,0.0969],tx:1242,ty:[15.5]},
  {c:3,r:0,xr:[16.47,57.53],yr:[-0.080,0.1003],tx:1738,ty:[15.5]},
  {c:0,r:1,xr:[30.15,74.85],yr:[-0.108,0.1135],tx:280,ty:[522]},
  {c:1,r:1,xr:[14.71,71.47],yr:[-0.1254,0.1524],tx:740,ty:[522]},
  {c:2,r:1,xr:[30.67,87.1],yr:[-0.0478,0.0585],tx:1238,ty:[522]},
  {c:3,r:1,xr:[4.62,41.4],yr:[-0.0598,0.107],tx:1729,ty:[522]},
  {c:0,r:2,xr:[21.4,71.7],yr:[-0.0487,0.0857],tx:257,ty:[996,1025]},
  {c:1,r:2,xr:[0.76,7.24],yr:[-0.0774,0.1198],tx:728,ty:[1025]},
  {c:2,r:2,xr:[3.2,26.76],yr:[-0.055,0.071],tx:1246,ty:[1029]},
  {c:3,r:2,xr:[-0.04,1.04],yr:[-0.0333,0.0715],tx:1751,ty:[997,1025]},
  {c:0,r:3,xr:[14.8,69.0],yr:[-0.0508,0.0487],tx:247,ty:[1533]},
  {c:1,r:3,xr:[19.1,70.9],yr:[-0.0374,0.0642],tx:732,ty:[1533]},
  {c:2,r:3,xr:[24.36,75.26],yr:[-0.0384,0.0468],tx:1257,ty:[1506,1534]}
];

const tickFont = {family:'"Liberation Sans", Arial, Helvetica, sans-serif', size:21, color:'#222'};
const traces = [];
const layout = {
  width:W, height:H, autosize:false,
  margin:{l:0,r:0,t:0,b:0,pad:0},
  paper_bgcolor:'#fff', plot_bgcolor:'#fff',
  showlegend:false, annotations:[]
};

cfg.forEach((p,i) => {
  const n = i + 1;
  const xa = 'x' + n, ya = 'y' + n;
  const [x0,x1] = cols[p.c], [y0,y1] = rows[p.r];
  const common = {
    showline:true, mirror:true, linecolor:'#000', linewidth:2.6,
    ticks:'outside', ticklen:12, tickwidth:2.6, tickcolor:'#000',
    showgrid:false, zeroline:false, fixedrange:true, tickfont:tickFont
  };
  layout['xaxis' + n] = Object.assign({}, common, {
    domain:[x0/W, x1/W], anchor:ya, range:p.xr, ticklabelstandoff:7,
    tickmode:'array', tickvals:xTicks[i], ticktext:xTickLabels[i]
  });
  layout['yaxis' + n] = Object.assign({}, common, {
    domain:[1 - y1/H, 1 - y0/H], anchor:xa, range:p.yr, ticklabelstandoff:11,
    tickmode:'array', tickvals:yTicks[i], ticktext:yTickLabels[i], tickangle:-90
  });

  // dense band of ICE curves
  const [hi, lo] = bands[i];
  const poly = hi.concat(lo.slice().reverse());
  traces.push({
    type:'scatter', mode:'lines', xaxis:xa, yaxis:ya,
    x:poly.map(d => d[0]), y:poly.map(d => d[1]),
    fill:'toself', fillcolor:'#000', line:{color:'#000', width:1.5},
    hoverinfo:'skip'
  });
  // individual visible curves
  extraLines[i].forEach(L => {
    traces.push({
      type:'scatter', mode:'lines', xaxis:xa, yaxis:ya,
      x:L.map(d => d[0]), y:L.map(d => d[1]),
      line:{color:'#000', width:1.8}, hoverinfo:'skip'
    });
  });

  // title lines
  titles[i].forEach((t, k) => {
    layout.annotations.push({
      text:'<b>' + t.replace(/&/g,'&amp;') + '</b>', xref:'paper', yref:'paper',
      x:p.tx / W, y:1 - p.ty[k] / H, xanchor:'center', yanchor:'middle',
      showarrow:false, font:{family:'Lato, "Open Sans", sans-serif', size:21.5, color:'#000'}
    });
  });
  // y-axis label
  layout.annotations.push({
    text:'yhat', xref:'paper', yref:'paper',
    x:(x0 - 87) / W, y:1 - ((y0 + y1) / 2) / H, xanchor:'center', yanchor:'middle',
    textangle:-90, showarrow:false, font:tickFont
  });
});

Plotly.newPlot('chart', traces, layout, {staticPlot:true, displayModeBar:false});
</script></body></html>
